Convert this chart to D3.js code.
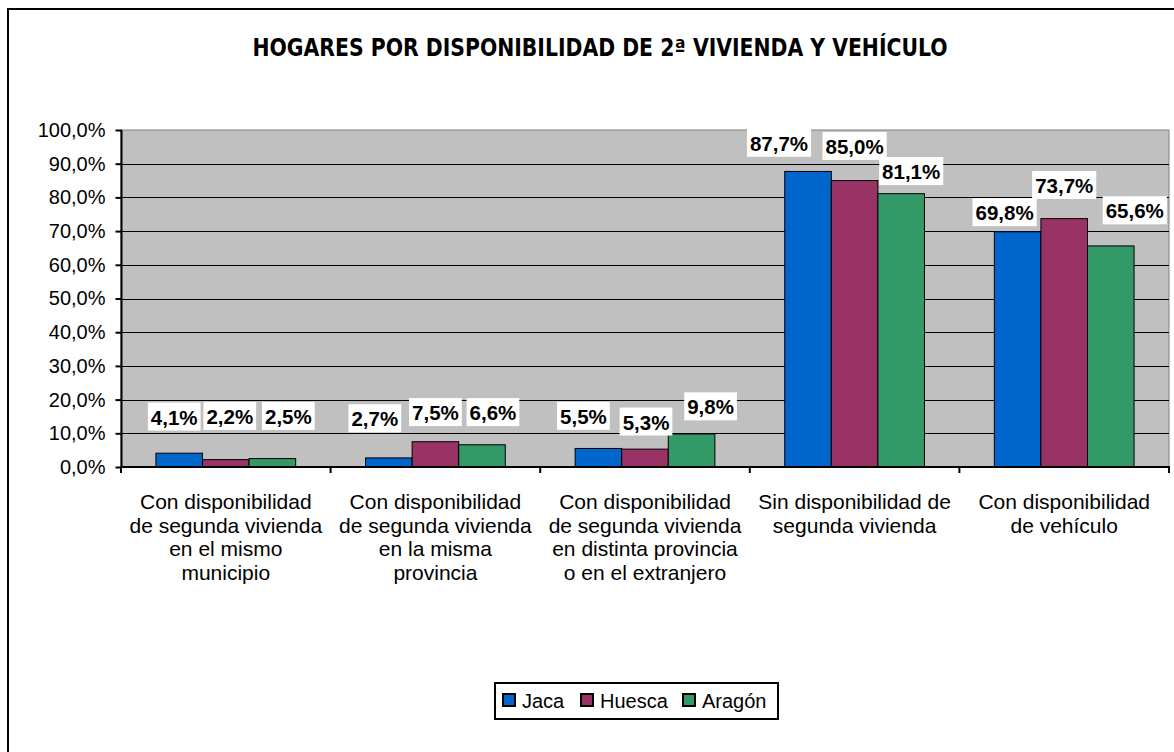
<!DOCTYPE html>
<html lang="es">
<head>
<meta charset="utf-8">
<title>Hogares por disponibilidad de 2ª vivienda y vehículo</title>
<script src="https://d3js.org/d3.v7.min.js"></script>
<style>
    body { margin: 0; background: #fff; }
    svg { display: block; font-family: "Liberation Sans", Arial, sans-serif; }
    .grid line { stroke: #000; stroke-width: 1; }
    .bar { stroke: #000; stroke-width: 1; }
    .value { font-weight: bold; font-size: 20.5px; }
</style>
</head>
<body>
<div id="chart"></div>
<script>
    var categories = [
        ["Con disponibilidad", "de segunda vivienda", "en el mismo", "municipio"],
        ["Con disponibilidad", "de segunda vivienda", "en la misma", "provincia"],
        ["Con disponibilidad", "de segunda vivienda", "en distinta provincia", "o en el extranjero"],
        ["Sin disponibilidad de", "segunda vivienda"],
        ["Con disponibilidad", "de vehículo"]
    ];
    var series = ["Jaca", "Huesca", "Aragón"];
    var jaca = [0.041, 0.027, 0.055, 0.877, 0.698];
    var huesca = [0.022, 0.075, 0.053, 0.850, 0.737];
    var aragon = [0.025, 0.066, 0.098, 0.811, 0.656];
    var yTicks = [0, 0.1, 0.2, 0.3, 0.4, 0.5, 0.6, 0.7, 0.8, 0.9, 1.0];
    var title = "HOGARES POR DISPONIBILIDAD DE 2ª VIVIENDA Y VEHÍCULO";

    // label nudges (dx, dy from bar centre / top) to mimic the original spreadsheet layout
    var labelShift = [
        [[-5, -36], [-14, -39], [-15, -32], [-29, -28], [-13, -19]],
        [[4, -43], [0, -29], [1, -27], [0, -34], [0, -33]],
        [[16, -42], [11, -32], [19, -27], [10, -22], [24, -35]]
    ];

    var colors = ["#0066cc", "#993366", "#339966"];
    var values = [jaca, huesca, aragon];

    var w = 1174, h = 752;
    var plot = { left: 121, right: 1169, top: 130, bottom: 467 };

    var fmt = function(v) { return d3.format(".1%")(v).replace(".", ","); };

    var svg = d3.select("#chart").append("svg")
        .attr("width", w)
        .attr("height", h);

    // outer chart border
    svg.append("rect")
        .attr("x", 8).attr("y", 9)
        .attr("width", w).attr("height", h)
        .attr("fill", "#fff")
        .attr("stroke", "#000")
        .attr("stroke-width", 2);

    svg.append("text")
        .attr("x", 600)
        .attr("y", 56)
        .attr("text-anchor", "middle")
        .attr("textLength", 695)
        .attr("lengthAdjust", "spacingAndGlyphs")
        .style("font-family", "'Liberation Sans Narrow', 'DejaVu Sans Condensed', 'Liberation Sans', sans-serif")
        .style("font-weight", "bold")
        .style("font-size", "24px")
        .text(title);

    var x = d3.scaleBand()
        .domain(d3.range(categories.length))
        .range([plot.left, plot.right]);

    var xSub = d3.scaleBand()
        .domain(series)
        .range([0, x.bandwidth()])
        .paddingInner(0)
        .paddingOuter(0.75);

    var y = d3.scaleLinear()
        .domain([0, 1])
        .range([plot.bottom, plot.top]);

    // plot background
    svg.append("rect")
        .attr("x", plot.left)
        .attr("y", plot.top)
        .attr("width", plot.right - plot.left)
        .attr("height", plot.bottom - plot.top)
        .attr("fill", "#c0c0c0")
        .attr("stroke", "#808080")
        .attr("stroke-width", 1);

    svg.append("g")
        .attr("class", "grid")
        .selectAll("line")
        .data(yTicks.slice(1, -1))
        .join("line")
        .attr("x1", plot.left)
        .attr("x2", plot.right)
        .attr("y1", d => Math.round(y(d)) + 0.5)
        .attr("y2", d => Math.round(y(d)) + 0.5);

    // bars
    values.forEach(function(vals, s) {
        svg.append("g").selectAll("rect")
            .data(vals)
            .join("rect")
            .attr("class", "bar")
            .attr("fill", colors[s])
            .attr("x", (d, i) => x(i) + xSub(series[s]))
            .attr("y", d => y(d))
            .attr("width", xSub.bandwidth())
            .attr("height", d => y(0) - y(d));
    });

    // y axis
    var yAxis = svg.append("g")
        .attr("transform", `translate(${plot.left + 0.5},0)`)
        .call(d3.axisLeft(y).tickValues(yTicks).tickSize(6).tickPadding(10)
            .tickFormat(fmt));
    yAxis.select(".domain").attr("stroke", "#000").attr("stroke-width", 2).attr("d", `M0,${plot.top}V${plot.bottom}`);
    yAxis.selectAll(".tick line").attr("stroke", "#000").attr("stroke-width", 2);
    yAxis.selectAll("text")
        .style("font-family", "'Liberation Sans', Arial, sans-serif")
        .style("font-size", "20px")
        .attr("fill", "#000");

    // x axis baseline and category separators
    var xAxis = svg.append("g")
        .attr("transform", `translate(0,${plot.bottom})`);
    xAxis.append("line")
        .attr("x1", plot.left).attr("x2", plot.right + 1)
        .attr("stroke", "#000").attr("stroke-width", 2);
    xAxis.selectAll(".sep")
        .data(d3.range(categories.length + 1))
        .join("line")
        .attr("class", "sep")
        .attr("x1", d => d < categories.length ? x(d) : plot.right)
        .attr("x2", d => d < categories.length ? x(d) : plot.right)
        .attr("y1", 0).attr("y2", 6)
        .attr("stroke", "#000").attr("stroke-width", 2);

    var catLabels = xAxis.selectAll(".cat")
        .data(categories)
        .join("text")
        .attr("class", "cat")
        .attr("text-anchor", "middle")
        .style("font-size", "21px");
    catLabels.each(function(lines, i) {
        d3.select(this).selectAll("tspan")
            .data(lines)
            .join("tspan")
            .attr("x", x(i) + x.bandwidth() / 2)
            .attr("y", (d, j) => 42 + j * 23.5)
            .text(d => d);
    });

    // value labels with white boxes
    values.forEach(function(vals, s) {
        var g = svg.append("g").selectAll("g")
            .data(vals)
            .join("g")
            .attr("transform", (d, i) => `translate(${x(i) + xSub(series[s]) + xSub.bandwidth() / 2 + labelShift[s][i][0]},${y(d) + labelShift[s][i][1]})`);
        g.append("text")
            .attr("class", "value")
            .attr("text-anchor", "middle")
            .attr("dy", "0.36em")
            .text(d => fmt(d));
        g.each(function() {
            var bb = d3.select(this).select("text").node().getBBox();
            d3.select(this).insert("rect", "text")
                .attr("x", bb.x - 3)
                .attr("y", bb.y - 3)
                .attr("width", bb.width + 6)
                .attr("height", bb.height + 5)
                .attr("fill", "#fff");
        });
    });

    // legend
    var legend = svg.append("g").attr("transform", "translate(495,683)");
    legend.append("rect")
        .attr("width", 283).attr("height", 36)
        .attr("fill", "#fff").attr("stroke", "#000").attr("stroke-width", 2);
    var legendX = [8, 86, 188];
    series.forEach(function(name, i) {
        var item = legend.append("g").attr("transform", `translate(${legendX[i]},11)`);
        item.append("rect")
            .attr("width", 12).attr("height", 12)
            .attr("fill", colors[i]).attr("stroke", "#000").attr("stroke-width", 2);
        item.append("text")
            .attr("x", 19).attr("y", 14)
            .style("font-size", "20px")
            .text(name);
    });
</script>
</body>
</html>
